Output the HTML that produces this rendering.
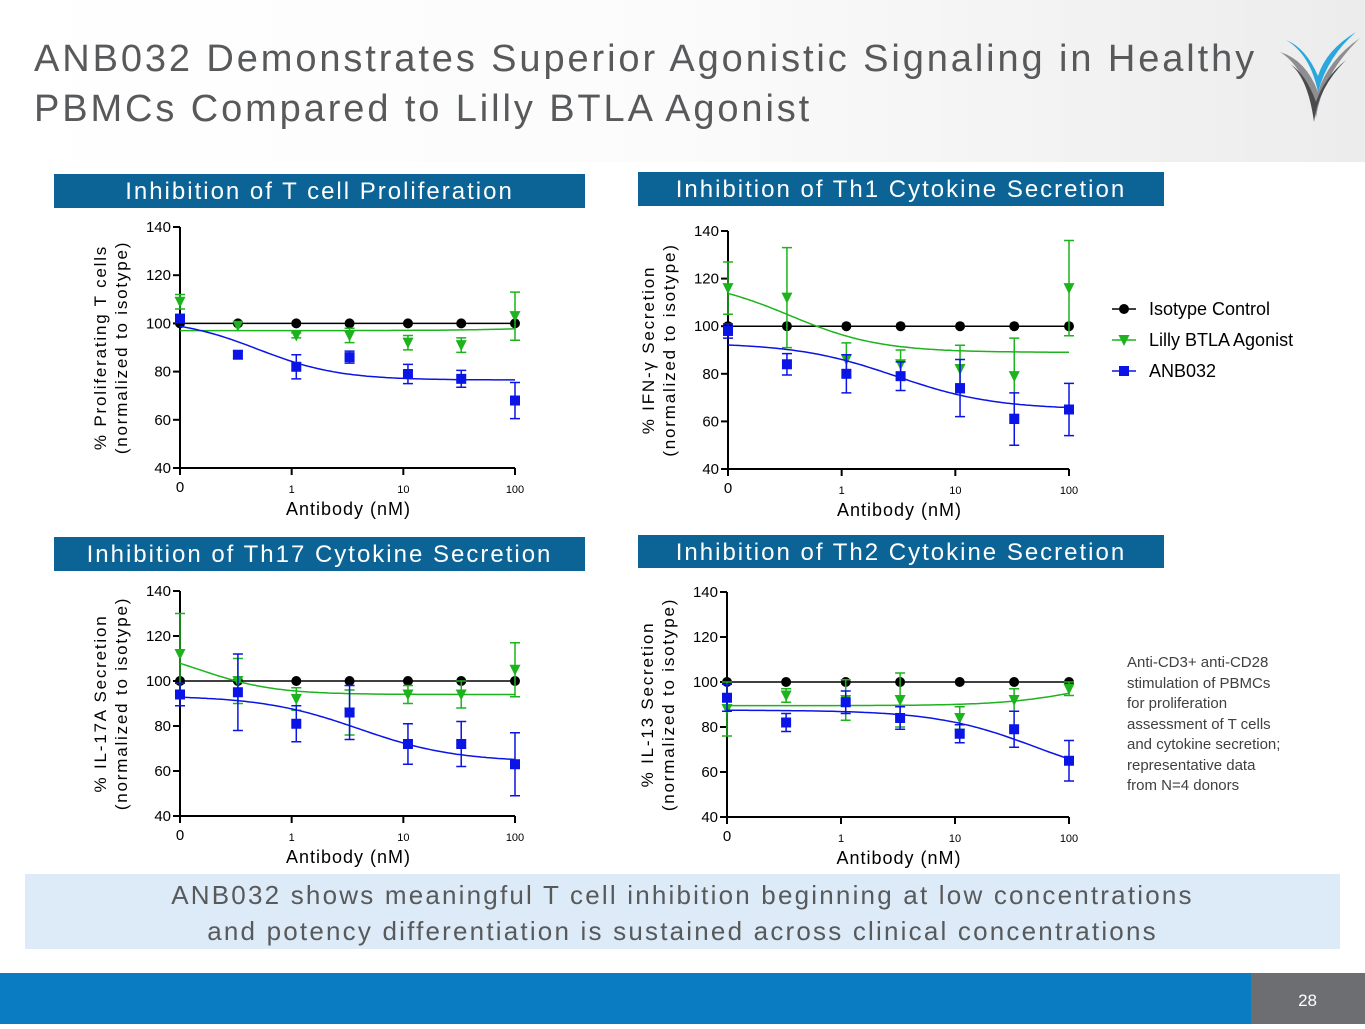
<!DOCTYPE html>
<html><head><meta charset="utf-8"><style>
body{margin:0;width:1365px;height:1024px;overflow:hidden;background:#fff;font-family:"Liberation Sans",sans-serif;position:relative}
.hdr{position:absolute;left:0;top:0;width:1365px;height:162px;background:linear-gradient(90deg,#fff 0%,#fbfbfb 50%,#ececec 100%)}
.title{position:absolute;left:34px;top:34px;font-size:38px;line-height:50px;color:#58595b;letter-spacing:2.9px;white-space:nowrap}
.ph{position:absolute;background:#0c6496;color:#fff;font-size:24px;text-align:center;line-height:36px;letter-spacing:2px;white-space:nowrap}
.box{position:absolute;left:25px;top:874px;width:1315px;height:75px;background:#dcebf7;color:#58595b;font-size:26px;text-align:center;line-height:36px;letter-spacing:2.2px;padding-top:3px;box-sizing:border-box;white-space:nowrap}
.foot{position:absolute;left:0;top:973px;width:1365px;height:51px;background:#0a7cc1}
.pn{position:absolute;left:1251px;top:973px;width:114px;height:51px;background:#6d6e71;color:#fff;font-size:17px;line-height:56px;text-align:right;padding-right:48px;box-sizing:border-box}
.note{position:absolute;left:1127px;top:653px;font-size:15px;line-height:20.5px;color:#404040}
svg text{font-family:"Liberation Sans",sans-serif}
</style></head><body>
<div class="hdr"></div>
<div class="title">ANB032 Demonstrates Superior Agonistic Signaling in Healthy<br>PBMCs Compared to Lilly BTLA Agonist</div>
<svg style="position:absolute;left:1276px;top:30px" width="90" height="95" viewBox="0 0 90 95">
<path d="M4 22 Q30 38 40 88 Q46 45 84 8 Q52 30 42 62 Q30 30 4 22Z" fill="#8e8e90"/>
<path d="M10 10 Q34 24 42 62 Q52 26 80 2 Q50 20 42 46 Q30 18 10 10Z" fill="#2aa7dc"/>
<path d="M14 34 Q32 48 38 92 Q42 58 70 30 Q48 48 40 72 Q30 44 14 34Z" fill="#4a4a4c"/>
</svg>
<div class="ph" style="left:54px;top:174px;width:531px;height:34px">Inhibition of T cell Proliferation</div>
<div class="ph" style="left:638px;top:172px;width:526px;height:34px">Inhibition of Th1 Cytokine Secretion</div>
<div class="ph" style="left:54px;top:537px;width:531px;height:34px">Inhibition of Th17 Cytokine Secretion</div>
<div class="ph" style="left:638px;top:535px;width:526px;height:33px">Inhibition of Th2 Cytokine Secretion</div>
<svg id="charts" style="position:absolute;left:0;top:0" width="1365" height="1024"></svg>
<div class="note">Anti-CD3+ anti-CD28<br>stimulation of PBMCs<br>for proliferation<br>assessment of T cells<br>and cytokine secretion;<br>representative data<br>from N=4 donors</div>
<div class="box">ANB032 shows meaningful T cell inhibition beginning at low concentrations<br>and potency differentiation is sustained across clinical concentrations</div>
<div class="foot"></div>
<div class="pn">28</div>
<script>
const concentrations=[0,0.33,1.1,3.3,11,33,100];
const yTicks=[40,60,80,100,120,140];
const xTickLabels=["1","10","100"];
const xTickValues=[1,10,100];
const seriesNames=["Isotype Control","Lilly BTLA Agonist","ANB032"];
const p1Iso=[100,100,100,100,100,100,100];
const p1Lilly=[109,99,95,95,92,91,103];
const p1LillyErr=[3,0,1,3,3,3,10];
const p1Anb=[102,87,82,86,79,77,68];
const p1AnbErr=[1,1.5,5,2.5,4,3.5,7.5];
const p1LillyFit=[97,100,300,1];
const p1AnbFit=[102,76.5,0.5,1.2];
const p2Iso=[100,100,100,100,100,100,100];
const p2Lilly=[116,112,86,84,82,79,116];
const p2LillyErr=[11,21,7,6,10,16,20];
const p2Anb=[98,84,80,79,74,61,65];
const p2AnbErr=[3,4.5,8,6,12,11,11];
const p2LillyFit=[120,89,0.35,1.1];
const p2AnbFit=[93,65,3,1];
const p3Iso=[100,100,100,100,100,100,100];
const p3Lilly=[112,100,92,86,94,94,105];
const p3LillyErr=[18,10,5,10,4,6,12];
const p3Anb=[94,95,81,86,72,72,63];
const p3AnbErr=[5,17,8,12,9,10,14];
const p3LillyFit=[116,94,0.15,1.3];
const p3AnbFit=[93.5,64,4,1];
const p4Iso=[100,100,100,100,100,100,100];
const p4Lilly=[88,94,92,92,84,92,97];
const p4LillyErr=[12,3,9,12,5,5,3];
const p4Anb=[93,82,91,84,77,79,65];
const p4AnbErr=[6,4,5,5,4,8,9];
const p4LillyFit=[89.5,104,150,1.2];
const p4AnbFit=[87.5,55,50,1];

const NS="http://www.w3.org/2000/svg";
const svg=document.getElementById('charts');
function mk(t,a,p){const e=document.createElementNS(NS,t);for(const k in a)e.setAttribute(k,a[k]);(p||svg).appendChild(e);return e;}
function fit(p,c){return p[1]+(p[0]-p[1])/(1+Math.pow(c/p[2],p[3]));}

function chart(cfg){
  const g=mk('g',{});
  
  
  const {x0,x1,yTop,yBot}=cfg;
  const dec=(x1-x0)/3;
  const X=c=>x0+(Math.log10(Math.max(c,0.1))+1)*dec;
  const Y=v=>yBot-(v-40)/100*(yBot-yTop);
  const ax=mk('path',{d:`M${x0} ${yTop}V${yBot}H${x1}`,stroke:'#000','stroke-width':2,fill:'none'},g);
  
  yTicks.forEach(v=>{
    mk('line',{x1:x0-7,x2:x0,y1:Y(v),y2:Y(v),stroke:'#000','stroke-width':2},g);
    const t=mk('text',{x:x0-9,y:Y(v)+5,'text-anchor':'end','font-size':15,fill:'#000'},g);t.textContent=v;
    
  });
  mk('line',{x1:x0,x2:x0,y1:yBot,y2:yBot+7,stroke:'#000','stroke-width':2},g);
  const z=mk('text',{x:x0,y:yBot+24,'text-anchor':'middle','font-size':15},g);z.textContent='0';
  
  xTickValues.forEach((v,i)=>{
    mk('line',{x1:X(v),x2:X(v),y1:yBot,y2:yBot+7,stroke:'#000','stroke-width':2},g);
    const t=mk('text',{x:X(v),y:yBot+25,'text-anchor':'middle','font-size':11},g);t.textContent=xTickLabels[i];
    
  });
  const xt=mk('text',{x:(x0+x1)/2+1,y:yBot+47,'text-anchor':'middle','font-size':18,'letter-spacing':'1'},g);xt.textContent='Antibody (nM)';
  
  const cy=(yTop+yBot)/2;
  const yt=mk('text',{transform:`translate(${x0-74},${cy}) rotate(-90)`,'text-anchor':'middle','font-size':17,'letter-spacing':'1.8'},g);
  
  const t1=mk('tspan',{x:0,dy:0},yt);t1.textContent=cfg.ylab;
  const t2=mk('tspan',{x:0,dy:21},yt);t2.textContent='(normalized to isotype)';
  const defs=[{v:cfg.iso,e:null,f:null,c:'#000',m:'circle'},{v:cfg.lilly,e:cfg.lillyErr,f:cfg.lillyFit,c:'#1db31d',m:'tri'},{v:cfg.anb,e:cfg.anbErr,f:cfg.anbFit,c:'#0a14e6',m:'sq'}];
  defs.forEach((s,si)=>{
    const sg=mk('g',{},g);
    
    
    let d='';
    if(s.f){for(let i=0;i<=120;i++){const c=Math.pow(10,-1+3*i/120);d+=(i?'L':'M')+X(c).toFixed(1)+' '+Y(fit(s.f,c)).toFixed(1);}}
    else{concentrations.forEach((c,i)=>{d+=(i?'L':'M')+X(c)+' '+Y(s.v[i]);});}
    const ln=mk('path',{d,stroke:s.c,'stroke-width':1.5,fill:'none'},sg);
    
    concentrations.forEach((c,i)=>{
      const x=X(c),y=Y(s.v[i]);
      if(s.e&&s.e[i]>0){const a=Y(s.v[i]+s.e[i]),b=Y(s.v[i]-s.e[i]);
        mk('path',{d:`M${x} ${a}V${b}M${x-5} ${a}H${x+5}M${x-5} ${b}H${x+5}`,stroke:s.c,'stroke-width':1.5,fill:'none'},sg);}
      let mkr;
      if(s.m==='circle')mkr=mk('circle',{cx:x,cy:y,r:5,fill:s.c},sg);
      else if(s.m==='sq')mkr=mk('rect',{x:x-5,y:y-5,width:10,height:10,fill:s.c},sg);
      else mkr=mk('path',{d:`M${x-5.5} ${y-5}H${x+5.5}L${x} ${y+6}Z`,fill:s.c},sg);
      
    });
  });
}
chart({name:'chart-proliferation',x0:180,x1:515,yTop:227,yBot:468,ylab:'% Proliferating T cells',iso:p1Iso,lilly:p1Lilly,lillyErr:p1LillyErr,anb:p1Anb,anbErr:p1AnbErr,lillyFit:p1LillyFit,anbFit:p1AnbFit});
chart({name:'chart-th1-ifng',x0:728,x1:1069,yTop:231,yBot:469,ylab:'% IFN-\u03b3  Secretion',iso:p2Iso,lilly:p2Lilly,lillyErr:p2LillyErr,anb:p2Anb,anbErr:p2AnbErr,lillyFit:p2LillyFit,anbFit:p2AnbFit});
chart({name:'chart-th17-il17a',x0:180,x1:515,yTop:591,yBot:816,ylab:'% IL-17A Secretion',iso:p3Iso,lilly:p3Lilly,lillyErr:p3LillyErr,anb:p3Anb,anbErr:p3AnbErr,lillyFit:p3LillyFit,anbFit:p3AnbFit});
chart({name:'chart-th2-il13',x0:727,x1:1069,yTop:592,yBot:817,ylab:'% IL-13 Secretion',iso:p4Iso,lilly:p4Lilly,lillyErr:p4LillyErr,anb:p4Anb,anbErr:p4AnbErr,lillyFit:p4LillyFit,anbFit:p4AnbFit});
const lg=mk('g',{});


const lc=['#000','#1db31d','#0a14e6'];
seriesNames.forEach((n,i)=>{
  const y=309+i*31,x=1124;
  const e=mk('g',{},lg);
  
  
  mk('line',{x1:x-12,x2:x+12,y1:y,y2:y,stroke:lc[i],'stroke-width':1.5},e);
  if(i===0)mk('circle',{cx:x,cy:y,r:5,fill:lc[i]},e);
  else if(i===1)mk('path',{d:`M${x-5.5} ${y-5}H${x+5.5}L${x} ${y+6}Z`,fill:lc[i]},e);
  else mk('rect',{x:x-5,y:y-5,width:10,height:10,fill:lc[i]},e);
  const t=mk('text',{x:1149,y:y+6,'font-size':18,'letter-spacing':'0'},e);t.textContent=n;
});
</script>
</body></html>
